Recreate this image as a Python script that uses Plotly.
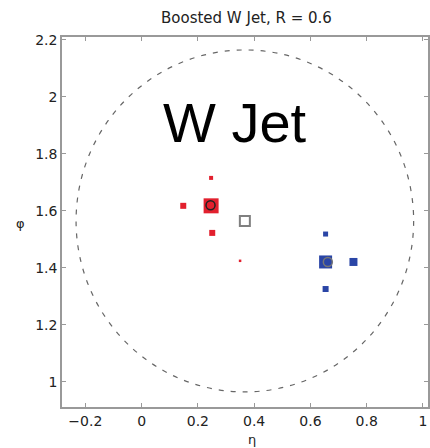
import numpy as np
import plotly.graph_objects as go

# Data
red_eta = [0.247, 0.148, 0.247, 0.251, 0.350]
red_phi = [1.618, 1.618, 1.716, 1.523, 1.425]
red_size = [15, 6, 4, 6, 2.5]

blue_eta = [0.654, 0.753, 0.654, 0.654]
blue_phi = [1.421, 1.421, 1.519, 1.326]
blue_size = [13, 8, 5, 6]

jet_eta = [0.367]
jet_phi = [1.565]
jet_R = 0.6

sub_eta = [0.245, 0.662]
sub_phi = [1.620, 1.421]
sub_color = ["#222222", "#777777"]

x_ticks = [-0.2, 0, 0.2, 0.4, 0.6, 0.8, 1]
x_ticklabels = ["\u22120.2", "0", "0.2", "0.4", "0.6", "0.8", "1"]
y_ticks = [1, 1.2, 1.4, 1.6, 1.8, 2, 2.2]
y_ticklabels = ["1", "1.2", "1.4", "1.6", "1.8", "2", "2.2"]

FONT_BIG = "Liberation Sans, Arial, sans-serif"
FONT = "DejaVu Sans, sans-serif"

fig = go.Figure()

fig.add_shape(type="circle", xref="x", yref="y",
              x0=jet_eta[0] - jet_R, x1=jet_eta[0] + jet_R,
              y0=jet_phi[0] - jet_R, y1=jet_phi[0] + jet_R,
              line=dict(color="#666666", width=1.2, dash="5px,7px"))

fig.add_trace(go.Scatter(x=red_eta, y=red_phi, mode="markers",
                         marker=dict(symbol="square", size=red_size, color="#e2202e",
                                     opacity=1, line=dict(width=0)), showlegend=False))
fig.add_trace(go.Scatter(x=blue_eta, y=blue_phi, mode="markers",
                         marker=dict(symbol="square", size=blue_size, color="#2a45a6",
                                     opacity=1, line=dict(width=0)), showlegend=False))
fig.add_trace(go.Scatter(x=jet_eta, y=jet_phi, mode="markers",
                         marker=dict(symbol="square-open", size=10, color="#808080",
                                     opacity=1, line=dict(width=2, color="#808080")), showlegend=False))
fig.add_trace(go.Scatter(x=sub_eta, y=sub_phi, mode="markers",
                         marker=dict(symbol="circle-open", size=9, color=sub_color, opacity=1,
                                     line=dict(width=1.5, color=sub_color)), showlegend=False))

fig.add_annotation(x=0.332, y=1.912, xref="x", yref="y", text="W Jet",
                   showarrow=False, font=dict(family=FONT_BIG, size=56, color="black"),
                   xanchor="center", yanchor="middle")

fig.add_annotation(x=0.503, y=1.051, xref="paper", yref="paper",
                   text="Boosted W Jet, R = 0.6", showarrow=False,
                   font=dict(family=FONT, size=15, color="#222222"),
                   xanchor="center", yanchor="middle")
fig.add_annotation(x=0.519, y=-0.089, xref="paper", yref="paper",
                   text="\u03b7", showarrow=False,
                   font=dict(family=FONT, size=13, color="#222222"),
                   xanchor="center", yanchor="middle")
fig.add_annotation(x=-0.114, y=0.497, xref="paper", yref="paper",
                   text="\u03c6", showarrow=False,
                   font=dict(family=FONT, size=13, color="#222222"),
                   xanchor="center", yanchor="middle")

axis_common = dict(showline=True, mirror="ticks", linecolor="#999999", linewidth=1.5,
                   ticks="inside", ticklen=4, tickcolor="#999999",
                   showgrid=False, zeroline=False,
                   tickfont=dict(family=FONT, size=14, color="#222222"))

fig.update_xaxes(range=[-0.283, 1.018], tickvals=x_ticks, ticktext=x_ticklabels, **axis_common)
fig.update_yaxes(range=[0.912, 2.2105], tickvals=y_ticks, ticktext=y_ticklabels, **axis_common)

fig.update_layout(width=430, height=448,
                  margin=dict(l=62, r=0, t=37, b=41),
                  paper_bgcolor="white", plot_bgcolor="white")

fig.write_html("out.html")
